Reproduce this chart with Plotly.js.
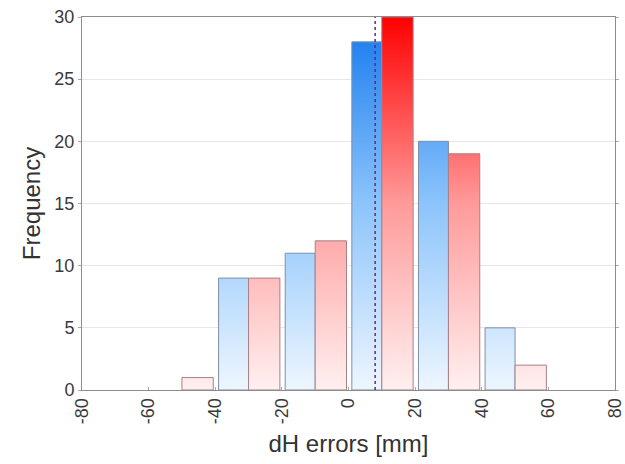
<!DOCTYPE html>
<html>
<head>
<meta charset="utf-8">
<script src="https://cdn.plot.ly/plotly-3.0.1.min.js"></script>
<style>html,body{margin:0;padding:0;background:#fff}#chart{width:625px;height:464px}</style>
</head>
<body>
<div id="chart"></div>
<script>
// Data
var binCenters = [-50, -30, -10, 10, 30, 50];   // 20 mm bins
var blueFreq   = [0, 9, 11, 28, 20, 5];
var redFreq    = [1, 9, 12, 30, 19, 2];
var meanLine   = 8;
var xTicks     = [-80, -60, -40, -20, 0, 20, 40, 60, 80];
var yTicks     = [0, 5, 10, 15, 20, 25, 30];

var binWidth = 20, gap = 1.0;

function polys(values, side) {
  var xs = [], ys = [];
  binCenters.forEach(function (c, i) {
    var v = values[i];
    if (!v) return;
    var x0, x1;
    if (side === 'left') { x0 = c - binWidth / 2 + gap; x1 = c; }
    else { x0 = c; x1 = c + binWidth / 2 - gap * 0.6; }
    xs.push(x0, x0, x1, x1, x0, null);
    ys.push(0, v, v, 0, 0, null);
  });
  return {x: xs, y: ys};
}

var b = polys(blueFreq, 'left');
var r = polys(redFreq, 'right');

var traces = [
  {
    type: 'scatter', mode: 'lines', x: b.x, y: b.y, fill: 'toself',
    line: {color: '#7f8fa8', width: 1},
    fillgradient: {type: 'vertical', start: 0, stop: 30,
      colorscale: [[0, '#eef6ff'], [0.5, '#8cc4fb'], [1, '#1478ee']]},
    hoverinfo: 'skip', showlegend: false
  },
  {
    type: 'scatter', mode: 'lines', x: r.x, y: r.y, fill: 'toself',
    line: {color: '#a88088', width: 1},
    fillgradient: {type: 'vertical', start: 0, stop: 30,
      colorscale: [[0, '#fff0f0'], [0.5, '#ff9a9a'], [1, '#ff0000']]},
    hoverinfo: 'skip', showlegend: false
  }
];

var layout = {
  width: 625, height: 464,
  margin: {l: 82, r: 10, t: 17, b: 74},
  paper_bgcolor: '#ffffff', plot_bgcolor: '#ffffff',
  font: {family: 'Liberation Sans, Arial, sans-serif', color: '#333333'},
  xaxis: {
    range: [-80, 80], tickvals: xTicks, ticktext: xTicks.map(String),
    tickangle: -90, tickfont: {size: 18, color: '#3a3a3a'},
    showgrid: false, zeroline: false,
    showline: true, linecolor: '#8c8c8c', linewidth: 1, mirror: true,
    ticks: 'inside', ticklen: 3, tickcolor: '#aaa',
    title: {text: 'dH errors [mm]', font: {size: 24, color: '#333'}, standoff: 11}
  },
  yaxis: {
    range: [0, 30], tickvals: yTicks,
    tickfont: {size: 18, color: '#3a3a3a'},
    showgrid: true, gridcolor: '#e6e6e6', zeroline: false,
    showline: true, linecolor: '#8c8c8c', linewidth: 1, mirror: 'ticks',
    ticks: 'outside', ticklen: 3, tickcolor: '#aaa',
    title: {text: 'Frequency', font: {size: 24, color: '#333'}, standoff: 6}
  },
  shapes: [
    {type: 'line', xref: 'x', yref: 'y', x0: meanLine, x1: meanLine, y0: 0, y1: 30,
     line: {color: '#6a2a70', width: 1.5, dash: 'dot'}}
  ]
};

Plotly.newPlot('chart', traces, layout, {staticPlot: true, displayModeBar: false});
</script>
</body>
</html>
